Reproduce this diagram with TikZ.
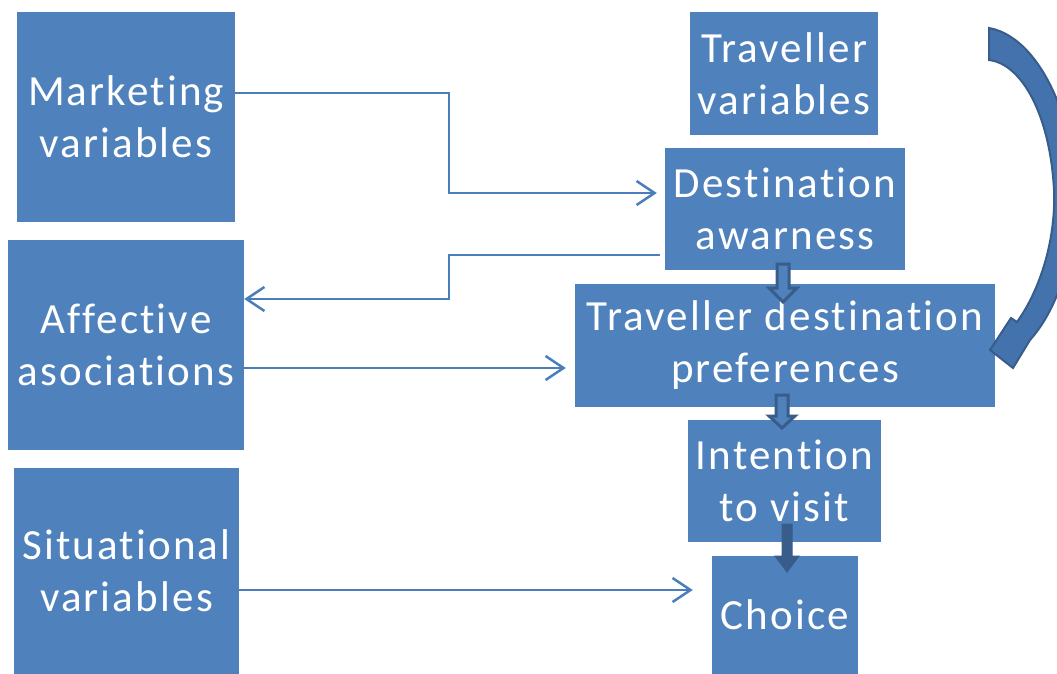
\documentclass[tikz,border=0pt]{standalone}
\usepackage{fontspec}
\setmainfont{Carlito}[LetterSpace=5, Ligatures=NoCommon]
\usetikzlibrary{arrows.meta}
\definecolor{boxblue}{HTML}{4F81BD}
\definecolor{linkblue}{HTML}{4A7EBB}
\definecolor{edgeblue}{HTML}{385D8A}
\definecolor{arcblue}{HTML}{4472AD}

% down-pointing block arrow: style, x, y top, y head base, y tip, shaft half width, head half width
\newcommand\blockdown[7]{%
  \filldraw[#1] ({#2-#6},#3) -- ({#2+#6},#3) -- ({#2+#6},#4) -- ({#2+#7},#4)
    -- (#2,#5) -- ({#2-#7},#4) -- ({#2-#6},#4) -- cycle;}

\begin{document}
\begin{tikzpicture}[x=1pt,y=-1pt,
  box/.style={fill=boxblue, text=white, align=center, inner sep=0pt,
    font=\fontsize{43}{52}\selectfont},
  conn/.style={draw=linkblue, line width=2pt,
    -{Straight Barb[length=18pt,width=24pt,line width=2.5pt]}},
  hollowarrow/.style={fill=boxblue, draw=edgeblue, line width=3pt, line join=miter},
  solidarrow/.style={fill=edgeblue, draw=edgeblue, line width=1pt}]
\useasboundingbox (0,0) rectangle (1057,674);

% left column
\node[box, minimum width=218pt, minimum height=210pt] (mkt) at (126,117) {Marketing\\variables};
\node[box, minimum width=236pt, minimum height=210pt] (aff) at (126,345) {Affective\\asociations};
\node[box, minimum width=225pt, minimum height=206pt] (sit) at (126.5,571) {Situational\\variables};

% right column
\node[box, minimum width=188pt, minimum height=123pt] (trv) at (784,73.5) {Traveller\\variables};
\node[box, minimum width=240pt, minimum height=122pt] (dest) at (785,209) {Destination\\awarness};
\node[box, minimum width=420pt, minimum height=123pt] (pref) at (785,345.5) {Traveller destination\\preferences};
\node[box, minimum width=193pt, minimum height=122pt] (intn) at (784.5,481) {Intention\\to visit};
\node[box, minimum width=146pt, minimum height=118pt] (choice) at (785,615) {Choice};

% connectors
\draw[conn] ([yshift=24pt]mkt.east) -| (449,193) -- ([xshift=-8pt]dest.west |- 0,193);
\draw[conn] ([xshift=-5pt]dest.west |- 0,255) -| (449,299) -- (aff.east |- 0,299);
\draw[conn] (aff.east |- 0,368) -- ([xshift=-9pt]pref.west |- 0,368);
\draw[conn] (sit.east |- 0,590) -- ([xshift=-19pt]choice.west |- 0,590);

% block arrows between stages
\blockdown{hollowarrow}{783}{264}{288}{302}{6}{14}
\blockdown{hollowarrow}{782}{395}{416}{428}{6}{13}
\blockdown{solidarrow}{787}{524}{556}{572}{5}{12}

% curved arrow from traveller variables to preferences
\begin{scope}
\clip (0,0) rectangle (1057,674);
\filldraw[fill=arcblue, draw=edgeblue, line width=2pt, line join=miter]
  (989,28) .. controls (1045,38) and (1085,140) .. (1074,230)
  .. controls (1066,285) and (1048,320) .. (1030,340)
  -- (1013,368) -- (990,350) -- (1011,318) -- (1017,322)
  .. controls (1040,290) and (1056,240) .. (1054,190)
  .. controls (1050,115) and (1022,64) .. (989,60) -- cycle;
\end{scope}
\end{tikzpicture}
\end{document}
